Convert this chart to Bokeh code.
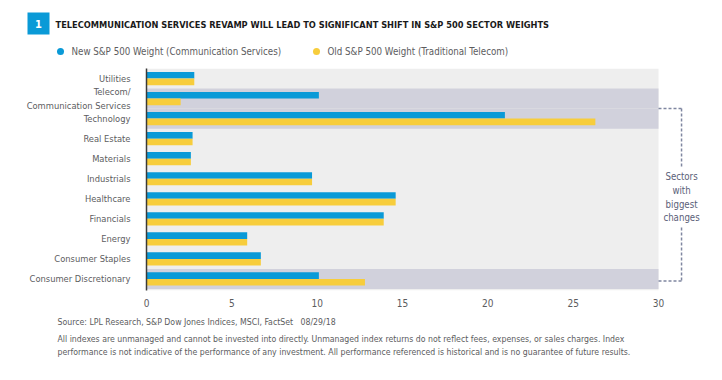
from bokeh.plotting import figure
from bokeh.layouts import column
from bokeh.models import ColumnDataSource, FixedTicker, Range1d
from bokeh.core.properties import value
from bokeh.embed import file_html
from bokeh.resources import INLINE

# ---- data ----
sectors = ["Utilities", "Telecom/\nCommunication Services", "Technology", "Real Estate",
           "Materials", "Industrials", "Healthcare", "Financials", "Energy",
           "Consumer Staples", "Consumer Discretionary"]
new_weight = [2.8, 10.1, 21.0, 2.7, 2.6, 9.7, 14.6, 13.9, 5.9, 6.7, 10.1]
old_weight = [2.8, 2.0, 26.3, 2.7, 2.6, 9.7, 14.6, 13.9, 5.9, 6.7, 12.8]
highlight = ["Telecom/\nCommunication Services", "Technology", "Consumer Discretionary"]
x_ticks = [0, 5, 10, 15, 20, 25, 30]

title_text = "TELECOMMUNICATION SERVICES REVAMP WILL LEAD TO SIGNIFICANT SHIFT IN S&P 500 SECTOR WEIGHTS"
legend_new = "New S&P 500 Weight (Communication Services)"
legend_old = "Old S&P 500 Weight (Traditional Telecom)"
source_text = "Source: LPL Research, S&P Dow Jones Indices, MSCI, FactSet \u00a0 08/29/18"
disc1 = ("All indexes are unmanaged and cannot be invested into directly. Unmanaged index returns do not "
         "reflect fees, expenses, or sales charges. Index")
disc2 = ("performance is not indicative of the performance of any investment. All performance referenced "
         "is historical and is no guarantee of future results.")

BLUE = "#0a9ad7"
YELLOW = "#f7cd3c"
FONT = "DejaVu Sans Condensed"
GRAY_TXT = "#5c5c5e"
W = 706


def blank(h):
    f = figure(width=W, height=h, output_backend="svg", toolbar_location=None,
               x_range=Range1d(0, W), y_range=Range1d(h, 0),
               x_axis_location=None, y_axis_location=None, min_border=0)
    f.outline_line_color = None
    f.xgrid.visible = False
    f.ygrid.visible = False
    f.frame_align = False
    return f


def txt(f, x, y, s, size, color=GRAY_TXT, style="normal", align="left"):
    f.text(x=[x], y=[y], text=[s], text_font=value(FONT), text_font_size=size,
           text_color=color, text_font_style=style, text_align=align, text_baseline="middle")


# ---- header ----
HH = 68
head = blank(HH)
head.quad(left=[27], right=[49], top=[12], bottom=[34], fill_color=BLUE, line_color=None)
txt(head, 38, 23, "1", "11px", color="white", style="bold", align="center")
txt(head, 55, 23.5, title_text, "9.2px", color="#1a1a1a", style="bold")
head.scatter(x=[60, 316], y=[51, 51], marker="circle", size=7, fill_color=[BLUE, YELLOW], line_color=None)
txt(head, 71, 51, legend_new, "9.7px")
txt(head, 327, 51, legend_old, "9.7px")

# ---- main chart ----
n = len(sectors)
ypos = [n - 1 - i for i in range(n)]  # top to bottom
XMAX = 30
YMIN, YMAX = -0.575, n - 0.5
MH = 242
FRAME_LEFT = 146
px_per_unit = 512 / 30

p = figure(width=W, height=MH, output_backend="svg", toolbar_location=None,
           x_range=Range1d(0, (W - FRAME_LEFT) / px_per_unit), y_range=Range1d(YMIN, YMAX),
           min_border_left=FRAME_LEFT, min_border_right=0, min_border_top=0, min_border_bottom=20)
p.outline_line_color = None
p.xgrid.visible = False
p.ygrid.visible = False
p.frame_align = False

p.quad(left=[0], right=[XMAX], bottom=[YMIN], top=[YMAX], fill_color="#eeeeee", line_color=None)
hb_bottom, hb_top = [], []
for s in highlight:
    y = ypos[sectors.index(s)]
    hb_bottom.append(max(y - 0.5, YMIN))
    hb_top.append(y + 0.5)
p.quad(left=[0] * len(hb_bottom), right=[XMAX] * len(hb_bottom), bottom=hb_bottom, top=hb_top,
       fill_color="#d1d1dc", line_color=None)

src = ColumnDataSource(dict(y_new=[y + 0.165 for y in ypos], y_old=[y - 0.165 for y in ypos],
                            new=new_weight, old=old_weight))
p.hbar(y="y_new", right="new", left=0, height=0.33, source=src, fill_color=BLUE, line_color=None)
p.hbar(y="y_old", right="old", left=0, height=0.33, source=src, fill_color=YELLOW, line_color=None)

BR = "#7f86a0"
xb = 31.35
ytop = ypos[sectors.index("Technology")] + 0.5
ybot = ypos[sectors.index("Consumer Discretionary")] - 0.1
p.segment(x0=[XMAX, XMAX], y0=[ytop, ybot], x1=[xb, xb], y1=[ytop, ybot],
          line_color=BR, line_width=1.5, line_dash="3 2")
p.segment(x0=[xb, xb], y0=[ytop, 2.57], x1=[xb, xb], y1=[5.51, ybot],
          line_color=BR, line_width=1.5, line_dash="3 2")
p.text(x=[xb], y=[4.08], text=["Sectors\nwith\nbiggest\nchanges"], text_align="center",
       text_baseline="middle", text_font=value(FONT), text_font_size="9.6px",
       text_color="#5a6078", text_line_height=1.25)

p.xaxis.ticker = FixedTicker(ticks=x_ticks)
p.xaxis.axis_line_color = None
p.xaxis.major_tick_line_color = None
p.xaxis.minor_tick_line_color = None
p.xaxis.major_label_standoff = 2
p.xaxis.major_label_text_font = FONT
p.xaxis.major_label_text_font_size = "10px"
p.xaxis.major_label_text_color = GRAY_TXT

p.yaxis.ticker = FixedTicker(ticks=ypos)
p.yaxis.major_label_overrides = {y: s for y, s in zip(ypos, sectors)}
p.yaxis.axis_line_color = "#3a3a3a"
p.yaxis.axis_line_width = 1.5
p.yaxis.major_tick_line_color = None
p.yaxis.minor_tick_line_color = None
p.yaxis.major_label_standoff = 10
p.yaxis.major_label_text_font = FONT
p.yaxis.major_label_text_font_size = "9.3px"
p.yaxis.major_label_text_color = GRAY_TXT

# ---- footer ----
FH = 364 - HH - MH
foot = blank(FH)
txt(foot, 57, 11, source_text, "8.7px")
txt(foot, 57, 28, disc1, "8.7px")
txt(foot, 57, 41, disc2, "8.7px")

layout = column(head, p, foot, spacing=0)
open("out.html", "w").write(file_html(layout, INLINE))
